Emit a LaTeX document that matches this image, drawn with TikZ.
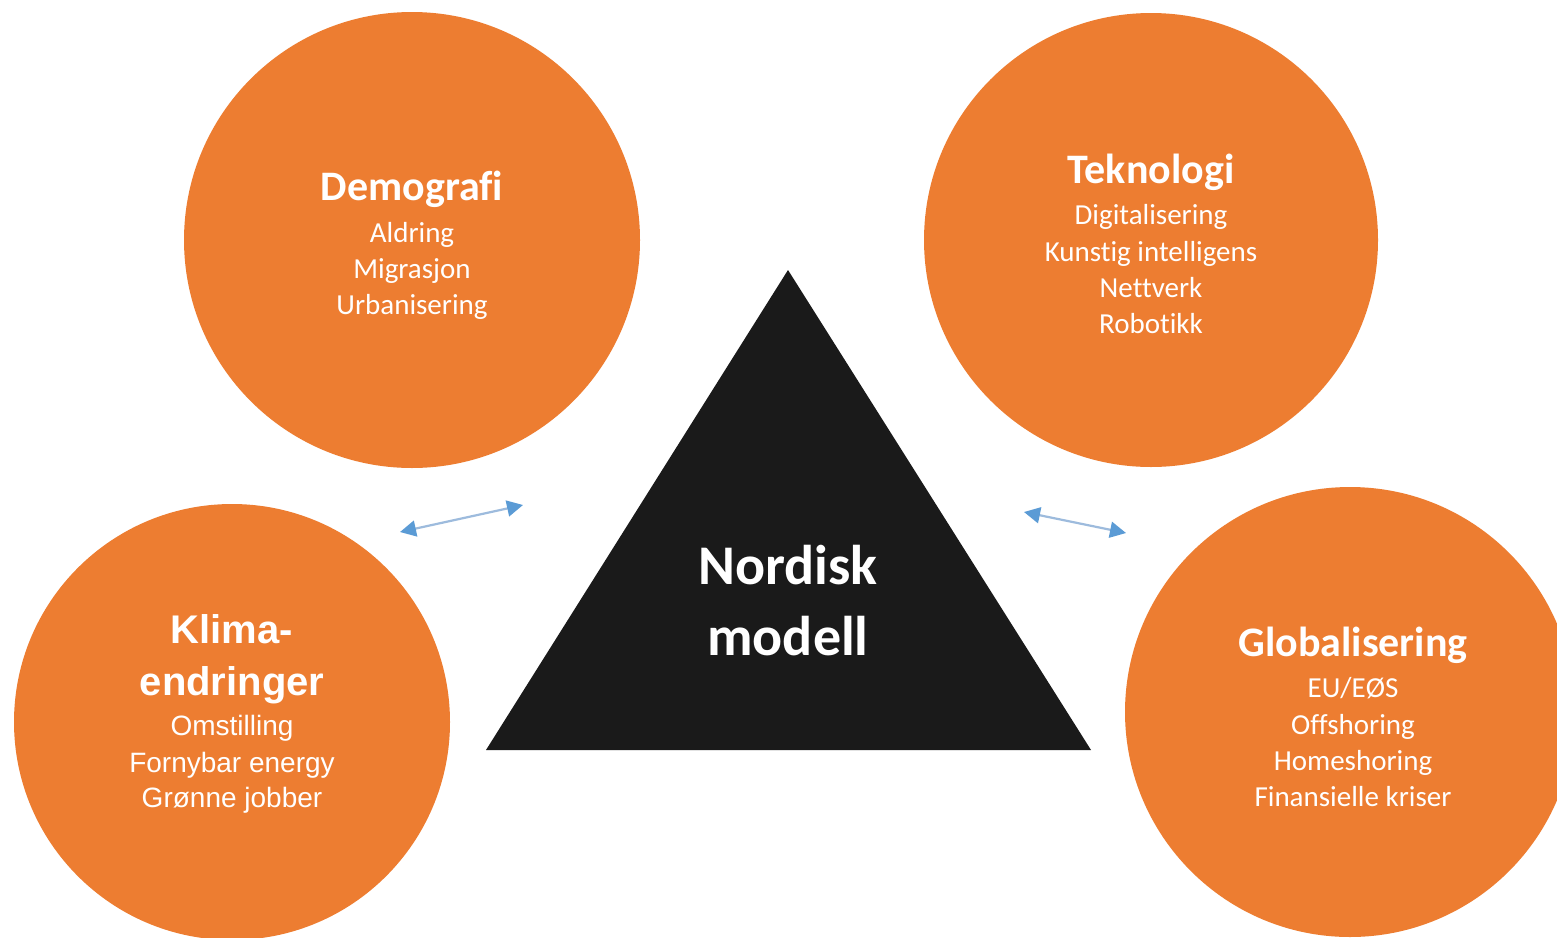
\documentclass[tikz,border=0pt]{standalone}
\usepackage{fontspec}
\setmainfont[Ligatures=NoCommon]{Carlito}
\newfontfamily\arialf{Liberation Sans}
\usetikzlibrary{arrows.meta}
\definecolor{orng}{HTML}{ED7D31}
\definecolor{tri}{HTML}{1A1A1A}
\definecolor{arrline}{HTML}{9DBBDD}
\definecolor{arrhead}{HTML}{5B9BD5}
\begin{document}
\begin{tikzpicture}[x=1pt,y=-1pt,
  bubble/.style={circle,fill=orng,draw=none,inner sep=0pt},
  ttl/.style={text=white,font=\fontsize{42}{48}\selectfont\bfseries,anchor=mid,inner sep=0pt},
  itm/.style={text=white,font=\fontsize{29}{34}\selectfont,anchor=mid,inner sep=0pt},
  kttl/.style={text=white,font=\arialf\fontsize{40}{46}\selectfont\bfseries,anchor=mid,inner sep=0pt},
  kitm/.style={text=white,font=\arialf\fontsize{28}{34}\selectfont,anchor=mid,inner sep=0pt},
  big/.style={text=white,font=\fontsize{56}{64}\selectfont\bfseries,anchor=mid,inner sep=0pt},
  link/.style={draw=arrline,line width=2.2pt,{Triangle[length=16pt,width=16pt,color=arrhead]}-{Triangle[length=16pt,width=16pt,color=arrhead]}}
]
\useasboundingbox (0,0) rectangle (1557,937);
\clip (0,0) rectangle (1557,937);
\fill[white] (0,0) rectangle (1557,937);

% circles
\node[bubble,minimum size=456pt] (demo) at (412,240) {};
\node[bubble,minimum size=454pt] (tek) at (1151,240) {};
\node[bubble,minimum size=436pt] (klima) at (232,722) {};
\node[bubble,minimum size=450pt] (glob) at (1350,712) {};

% triangle
\coordinate (apex) at (788,270);
\coordinate (bl) at (486,750);
\coordinate (br) at (1091,750);
\fill[tri] (apex) -- (br) -- (bl) -- cycle;
\node[big] (nord) at (788,582) {Nordisk};
\node[big] (mod) at (788,653) {modell};

% Demografi
\node[ttl] (demoT) at (412,198) {Demografi};
\node[itm] (d1) at (412,240) {Aldring};
\node[itm] (d2) at (412,276) {Migrasjon};
\node[itm] (d3) at (412,312) {Urbanisering};

% Teknologi
\node[ttl] (tekT) at (1151,181) {Teknologi};
\node[itm] (t1) at (1151,222) {Digitalisering};
\node[itm] (t2) at (1151,259) {Kunstig intelligens};
\node[itm] (t3) at (1151,295) {Nettverk};
\node[itm] (t4) at (1151,331) {Robotikk};

% Klima
\node[kttl] (kT1) at (232,641) {Klima-};
\node[kttl] (kT2) at (232,693) {endringer};
\node[kitm] (k1) at (232,733) {Omstilling};
\node[kitm] (k2) at (232,770) {Fornybar energy};
\node[kitm] (k3) at (232,805) {Grønne jobber};

% Globalisering
\node[ttl] (gT) at (1353,654) {Globalisering};
\node[itm] (g1) at (1353,695) {EU/EØS};
\node[itm] (g2) at (1353,732) {Offshoring};
\node[itm] (g3) at (1353,768) {Homeshoring};
\node[itm] (g4) at (1353,804) {Finansielle kriser};

% arrows
\coordinate (la) at (400,532);
\coordinate (lb) at (523,505);
\coordinate (ra) at (1024,512);
\coordinate (rb) at (1126,533);
\draw[link] (la) -- (lb);
\draw[link] (ra) -- (rb);
\end{tikzpicture}
\end{document}
